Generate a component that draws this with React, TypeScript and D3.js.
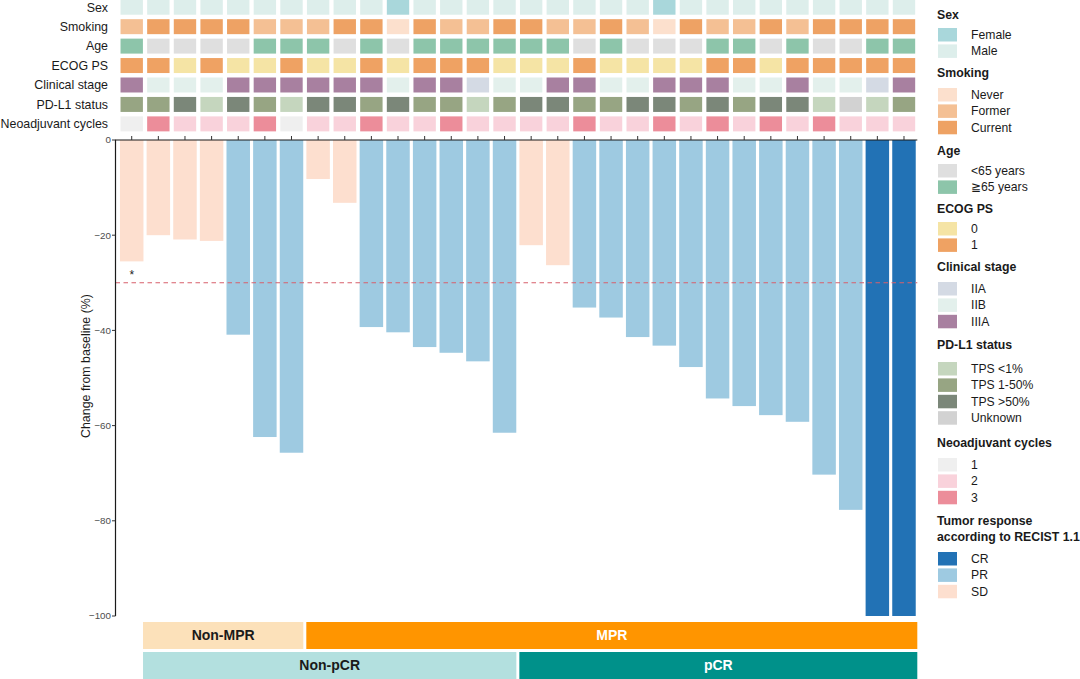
import * as d3 from 'd3'

// ---- data ----
const patients = d3.range(1, 31).map(i => `P${i}`)

const change = [
  -25.5, -20.0, -20.9, -21.2, -40.9, -62.4, -65.7, -8.2, -13.2, -39.3,
  -40.4, -43.5, -44.7, -46.5, -61.5, -22.1, -26.3, -35.2, -37.3, -41.4,
  -43.2, -47.7, -54.3, -55.9, -57.8, -59.2, -70.3, -77.7, -100, -100
]
const response = [
  'SD', 'SD', 'SD', 'SD', 'PR', 'PR', 'PR', 'SD', 'SD', 'PR',
  'PR', 'PR', 'PR', 'PR', 'PR', 'SD', 'SD', 'PR', 'PR', 'PR',
  'PR', 'PR', 'PR', 'PR', 'PR', 'PR', 'PR', 'PR', 'CR', 'CR'
]
const sex = [
  'Male', 'Male', 'Male', 'Male', 'Male', 'Male', 'Male', 'Male', 'Male', 'Male',
  'Female', 'Male', 'Male', 'Male', 'Male', 'Male', 'Male', 'Male', 'Male', 'Male',
  'Female', 'Male', 'Male', 'Male', 'Male', 'Male', 'Male', 'Male', 'Male', 'Male'
]
const smoking = [
  'Former', 'Current', 'Current', 'Current', 'Current', 'Former', 'Former', 'Former', 'Current', 'Current',
  'Never', 'Current', 'Former', 'Former', 'Current', 'Current', 'Former', 'Former', 'Current', 'Former',
  'Never', 'Current', 'Former', 'Former', 'Current', 'Former', 'Current', 'Current', 'Current', 'Current'
]
const age = [
  '≧65 years', '<65 years', '<65 years', '<65 years', '<65 years', '≧65 years', '≧65 years', '≧65 years', '<65 years', '≧65 years',
  '<65 years', '≧65 years', '≧65 years', '≧65 years', '≧65 years', '≧65 years', '≧65 years', '<65 years', '≧65 years', '<65 years',
  '<65 years', '<65 years', '≧65 years', '≧65 years', '<65 years', '≧65 years', '<65 years', '<65 years', '≧65 years', '≧65 years'
]
const ecog = [
  '1', '1', '0', '1', '0', '0', '1', '0', '0', '1',
  '0', '1', '1', '1', '0', '0', '0', '1', '0', '0',
  '0', '0', '1', '1', '0', '1', '1', '1', '1', '1'
]
const stage = [
  'IIIA', 'IIB', 'IIB', 'IIB', 'IIIA', 'IIIA', 'IIIA', 'IIIA', 'IIIA', 'IIIA',
  'IIB', 'IIIA', 'IIIA', 'IIA', 'IIB', 'IIB', 'IIIA', 'IIIA', 'IIB', 'IIB',
  'IIIA', 'IIIA', 'IIIA', 'IIB', 'IIB', 'IIIA', 'IIB', 'IIB', 'IIA', 'IIIA'
]
const pdl1 = [
  'TPS 1-50%', 'TPS 1-50%', 'TPS >50%', 'TPS <1%', 'TPS >50%', 'TPS 1-50%', 'TPS <1%', 'TPS >50%', 'TPS >50%', 'TPS 1-50%',
  'TPS >50%', 'TPS 1-50%', 'TPS 1-50%', 'TPS <1%', 'TPS 1-50%', 'TPS >50%', 'TPS >50%', 'TPS 1-50%', 'TPS 1-50%', 'TPS >50%',
  'TPS >50%', 'TPS 1-50%', 'TPS >50%', 'TPS 1-50%', 'TPS >50%', 'TPS >50%', 'TPS <1%', 'Unknown', 'TPS <1%', 'TPS 1-50%'
]
const cycles = [
  '1', '3', '2', '2', '2', '3', '1', '2', '2', '3',
  '2', '2', '3', '2', '2', '2', '2', '3', '2', '2',
  '3', '2', '3', '2', '3', '2', '3', '2', '2', '2'
]

const yTicks = [0, -20, -40, -60, -80, -100]

// strip groups: [label, first column edge, last column edge]
const mprGroups: [string, number, number][] = [['Non-MPR', 1, 7], ['MPR', 7, 30]]
const pcrGroups: [string, number, number][] = [['Non-pCR', 1, 15], ['pCR', 15, 30]]

// ---- colours ----
const palette: Record<string, Record<string, string>> = {
  Sex: { Female: '#A9D7DB', Male: '#DDEEEB' },
  Smoking: { Never: '#FCE0CD', Former: '#F4C094', Current: '#EEA264' },
  Age: { '<65 years': '#DFDFDF', '≧65 years': '#8DC5AA' },
  'ECOG PS': { '0': '#F5E4A5', '1': '#EFA263' },
  'Clinical stage': { IIA: '#D4DAE4', IIB: '#E3F0EC', IIIA: '#A880A0' },
  'PD-L1 status': { 'TPS <1%': '#C5D6BE', 'TPS 1-50%': '#97A583', 'TPS >50%': '#7B8779', Unknown: '#D2D2D2' },
  'Neoadjuvant cycles': { '1': '#EFEFEF', '2': '#F9D2DB', '3': '#EC8D9A' },
  Response: { CR: '#2272B5', PR: '#9ECAE1', SD: '#FDDFCF' }
}
const stripColors: Record<string, [string, string]> = {
  'Non-MPR': ['#FCE1BA', '#1a1a1a'],
  MPR: ['#FF9500', '#ffffff'],
  'Non-pCR': ['#B3E0DF', '#1a1a1a'],
  pCR: ['#00918A', '#ffffff']
}

const rows: [string, string[]][] = [
  ['Sex', sex],
  ['Smoking', smoking],
  ['Age', age],
  ['ECOG PS', ecog],
  ['Clinical stage', stage],
  ['PD-L1 status', pdl1],
  ['Neoadjuvant cycles', cycles]
]

const legendGroups: [string[], string, string[]][] = [
  [['Sex'], 'Sex', ['Female', 'Male']],
  [['Smoking'], 'Smoking', ['Never', 'Former', 'Current']],
  [['Age'], 'Age', ['<65 years', '≧65 years']],
  [['ECOG PS'], 'ECOG PS', ['0', '1']],
  [['Clinical stage'], 'Clinical stage', ['IIA', 'IIB', 'IIIA']],
  [['PD-L1 status'], 'PD-L1 status', ['TPS <1%', 'TPS 1-50%', 'TPS >50%', 'Unknown']],
  [['Neoadjuvant cycles'], 'Neoadjuvant cycles', ['1', '2', '3']],
  [['Tumor response', 'according to RECIST 1.1'], 'Response', ['CR', 'PR', 'SD']]
]

const FONT = "'Liberation Sans', Arial, Helvetica, sans-serif"

export default function App() {
  const W = 1080
  const H = 679
  const x0 = 118.4
  const x1 = 917.3
  const x = d3.scaleBand<string>().domain(patients).range([x0, x1]).paddingInner(0.118).paddingOuter(0.059)
  const step = x.step()
  const bw = x.bandwidth()
  const y = d3.scaleLinear().domain([0, -100]).range([140, 616])
  const rowY = d3.scaleBand<string>().domain(rows.map(r => r[0])).range([-2.5, 133.6]).paddingInner(0.229).paddingOuter(0.1145)
  const fmt = d3.format('d')
  const edge = (k: number) => x0 + k * step

  // legend layout
  let ty = 15
  const legendItems = legendGroups.map(([titles, key, levels]) => {
    const titleY = ty
    const lastTitle = titleY + (titles.length - 1) * 16
    const keyTop = lastTitle + 13 + 2 * (levels.length - 2)
    ty = lastTitle + 18 + 20 * levels.length
    return { titles, key, levels, titleY, keyTop }
  })

  const strip = (groups: [string, number, number][], top: number) =>
    groups.map(([label, a, b], i) => {
      const left = edge(a) + (i > 0 ? 1.5 : -2)
      const right = edge(b) - (i < groups.length - 1 ? 1.5 : 0)
      const [fill, tc] = stripColors[label]
      return (
        <g key={label}>
          <rect x={left} y={top} width={right - left} height={27} fill={fill} />
          <text x={(left + right) / 2} y={top + 13.5} dy="0.35em" textAnchor="middle"
            fontWeight="bold" fontSize={14} fill={tc}>{label}</text>
        </g>
      )
    })

  return (
    <svg width={W} height={H} style={{ position: 'absolute', left: 0, top: 0, background: '#fff' }}
      fontFamily={FONT}>
      {/* heatmap annotation rows */}
      {rows.map(([name, vals]) => (
        <g key={name}>
          <text x={108} y={(rowY(name) || 0) + rowY.bandwidth() / 2} dy="0.35em" textAnchor="end"
            fontSize={12.4} fill="#1a1a1a">{name}</text>
          {patients.map((p, i) => (
            <rect key={p} x={(x(p) || 0) + 0.55} y={rowY(name)} width={bw - 1.1} height={rowY.bandwidth()}
              fill={palette[name][vals[i]]} />
          ))}
        </g>
      ))}

      {/* bars */}
      {patients.map((p, i) => (
        <rect key={p} x={x(p)} y={y(0)} width={bw} height={y(change[i]) - y(0)}
          fill={palette.Response[response[i]]} />
      ))}
      <text x={(x(patients[0]) || 0) + bw / 2} y={y(change[0]) + 18} textAnchor="middle" fontSize={12} fill="#222">*</text>

      {/* threshold */}
      <line x1={115.5} x2={x1} y1={y(-30)} y2={y(-30)} stroke="#D8606C" strokeWidth={1.1} strokeDasharray="4.5,3.5" />

      {/* top axis */}
      <line x1={115} x2={x1} y1={y(0)} y2={y(0)} stroke="#1a1a1a" strokeWidth={1.2} />
      {patients.map(p => (
        <line key={p} x1={(x(p) || 0) + bw / 2} x2={(x(p) || 0) + bw / 2} y1={y(0)} y2={y(0) - 4}
          stroke="#333" strokeWidth={1} />
      ))}

      {/* y axis */}
      <line x1={115.5} x2={115.5} y1={y(0)} y2={y(-100)} stroke="#1a1a1a" strokeWidth={1.2} />
      {yTicks.map(t => (
        <g key={t}>
          <line x1={112} x2={115.5} y1={y(t)} y2={y(t)} stroke="#333" strokeWidth={1} />
          <text x={111} y={y(t)} dy="0.35em" textAnchor="end" fontSize={9.8} fill="#4D4D4D">{fmt(t)}</text>
        </g>
      ))}
      <text transform={`translate(86, ${(y(0) + y(-100)) / 2 - 12}) rotate(-90)`} textAnchor="middle"
        dy="0.35em" fontSize={12.4} fill="#1a1a1a">Change from baseline (%)</text>

      {/* response strips */}
      {strip(mprGroups, 622)}
      {strip(pcrGroups, 652)}

      {/* legend */}
      {legendItems.map(({ titles, key, levels, titleY, keyTop }) => (
        <g key={key}>
          {titles.map((t, j) => (
            <text key={t} x={937} y={titleY + j * 16} dy="0.35em" fontSize={12.3} fontWeight="bold" fill="#1a1a1a">{t}</text>
          ))}
          {levels.map((lv, j) => (
            <g key={lv}>
              <rect x={938} y={keyTop + j * 16.4} width={19} height={13.5} fill={palette[key][lv]} />
              <text x={971} y={keyTop + j * 16.4 + 6.75} dy="0.35em" fontSize={12.2} fill="#1a1a1a">{lv}</text>
            </g>
          ))}
        </g>
      ))}
    </svg>
  )
}
